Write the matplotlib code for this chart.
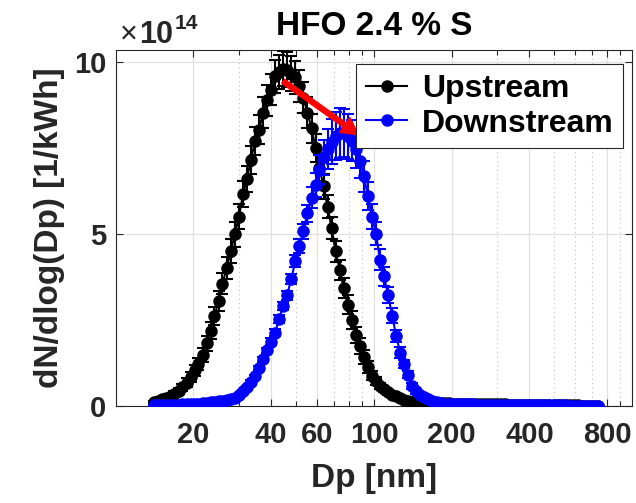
import numpy as np
import matplotlib
matplotlib.use("Agg")
import matplotlib.pyplot as plt
from matplotlib.lines import Line2D
from matplotlib.ticker import FixedLocator, LogLocator, FuncFormatter, NullFormatter
from matplotlib.transforms import offset_copy

# SMPS channel midpoints (nm), 64 channels per decade
dp = [14.1, 14.6, 15.1, 15.7, 16.3, 16.8, 17.5, 18.1, 18.8, 19.5,
      20.2, 20.9, 21.7, 22.5, 23.3, 24.1, 25.0, 25.9, 26.9, 27.9,
      28.9, 30.0, 31.1, 32.2, 33.4, 34.6, 35.9, 37.2, 38.5, 40.0,
      41.4, 42.9, 44.5, 46.1, 47.8, 49.6, 51.4, 53.3, 55.2, 57.3,
      59.4, 61.5, 63.8, 66.1, 68.5, 71.0, 73.7, 76.4, 79.1, 82.0,
      85.1, 88.2, 91.4, 94.7, 98.2, 101.8, 105.5, 109.4, 113.4, 117.6,
      121.9, 126.3, 131.0, 135.8, 140.7, 145.9, 151.2, 156.8, 162.5, 168.5,
      174.7, 181.1, 187.7, 194.6, 201.7, 209.1, 216.7, 224.7, 232.9, 241.4,
      250.3, 259.5, 269.0, 278.8, 289.0, 299.6, 310.6, 322.0, 333.8, 346.0,
      358.7, 371.8, 385.4, 399.5, 414.2, 429.4, 445.1, 461.4, 478.3, 495.8,
      514.0, 532.8, 552.3, 572.5, 593.5, 615.3, 637.8, 661.2, 685.4, 710.5,
      736.5]

scale = 1e14

# dN/dlogDp in units of 1e14 per kWh
upstream = [0.12, 0.15, 0.19, 0.23, 0.28, 0.35, 0.44, 0.54, 0.68, 0.84,
            1.03, 1.22, 1.48, 1.82, 2.19, 2.60, 3.05, 3.55, 4.02, 4.50,
            4.98, 5.50, 6.15, 6.60, 7.15, 7.70, 8.02, 8.52, 8.88, 9.19,
            9.58, 9.70, 9.80, 9.77, 9.65, 9.55, 9.30, 8.95, 8.52, 8.07,
            7.49, 6.91, 6.38, 5.79, 5.17, 4.49, 3.95, 3.42, 2.94, 2.50,
            2.06, 1.74, 1.43, 1.14, 0.88, 0.72, 0.58, 0.48, 0.40, 0.33,
            0.28, 0.23, 0.18, 0.14, 0.12, 0.11, 0.10, 0.095, 0.09, 0.085,
            0.08, 0.078, 0.075, 0.072, 0.07, 0.068, 0.065, 0.063, 0.06, 0.058,
            0.056, 0.054, 0.052, 0.05, 0.048, 0.046, 0.044, 0.042, 0.04, 0.038,
            0.036, 0.034, 0.032, 0.03, 0.028, 0.026, 0.024, 0.022, 0.02, 0.019,
            0.018, 0.017, 0.016, 0.015, 0.014, 0.013, 0.012, 0.011, 0.010, 0.010,
            0.009]

upstream_err = [0.03, 0.04, 0.05, 0.05, 0.06, 0.07, 0.08, 0.10, 0.12, 0.14,
                0.16, 0.18, 0.20, 0.22, 0.24, 0.26, 0.28, 0.30, 0.32, 0.34,
                0.35, 0.36, 0.38, 0.38, 0.40, 0.40, 0.42, 0.44, 0.45, 0.46,
                0.48, 0.50, 0.52, 0.52, 0.50, 0.48, 0.46, 0.45, 0.44, 0.42,
                0.40, 0.38, 0.36, 0.34, 0.32, 0.30, 0.30, 0.29, 0.28, 0.26,
                0.24, 0.22, 0.20, 0.17, 0.14, 0.12, 0.10, 0.08, 0.07, 0.06,
                0.05, 0.04, 0.035, 0.03, 0.025, 0.02, 0.02, 0.02, 0.015, 0.015,
                0.01, 0.01, 0.01, 0.01, 0.01, 0.01, 0.01, 0.01, 0.01, 0.01,
                0.01, 0.01, 0.01, 0.01, 0.01, 0.01, 0.01, 0.01, 0.01, 0.01,
                0.01, 0.01, 0.01, 0.01, 0.01, 0.01, 0.01, 0.01, 0.01, 0.01,
                0.01, 0.01, 0.01, 0.01, 0.01, 0.01, 0.01, 0.01, 0.01, 0.01,
                0.01]

downstream = [0.03, 0.03, 0.03, 0.035, 0.035, 0.04, 0.04, 0.045, 0.05, 0.055,
              0.06, 0.07, 0.08, 0.09, 0.10, 0.12, 0.13, 0.15, 0.17, 0.19,
              0.23, 0.31, 0.42, 0.55, 0.70, 0.86, 1.11, 1.35, 1.61, 1.87,
              2.12, 2.53, 2.91, 3.22, 3.68, 4.20, 4.65, 5.07, 5.60, 6.05,
              6.42, 6.86, 7.22, 7.45, 7.68, 7.83, 7.93, 7.93, 7.83, 7.70,
              7.45, 7.12, 6.67, 6.10, 5.50, 5.00, 4.25, 3.76, 3.22, 2.62,
              2.03, 1.55, 1.22, 0.90, 0.58, 0.42, 0.33, 0.26, 0.20, 0.14,
              0.10, 0.08, 0.07, 0.06, 0.055, 0.05, 0.048, 0.046, 0.044, 0.042,
              0.04, 0.038, 0.036, 0.034, 0.032, 0.03, 0.029, 0.028, 0.027, 0.026,
              0.025, 0.024, 0.023, 0.022, 0.021, 0.02, 0.019, 0.018, 0.017, 0.016,
              0.015, 0.014, 0.013, 0.012, 0.011, 0.010, 0.009, 0.008, 0.007, 0.006,
              0.005]

downstream_err = [0.01, 0.01, 0.01, 0.01, 0.01, 0.01, 0.01, 0.01, 0.01, 0.01,
                  0.01, 0.01, 0.01, 0.015, 0.015, 0.02, 0.02, 0.02, 0.025, 0.025,
                  0.03, 0.03, 0.04, 0.04, 0.05, 0.05, 0.06, 0.07, 0.08, 0.09,
                  0.10, 0.11, 0.12, 0.13, 0.15, 0.17, 0.20, 0.22, 0.25, 0.30,
                  0.35, 0.42, 0.50, 0.58, 0.65, 0.70, 0.72, 0.70, 0.66, 0.60,
                  0.55, 0.50, 0.45, 0.40, 0.36, 0.33, 0.30, 0.27, 0.24, 0.21,
                  0.18, 0.15, 0.12, 0.10, 0.08, 0.06, 0.05, 0.04, 0.03, 0.02,
                  0.01, 0.01, 0.01, 0.01, 0.01, 0.01, 0.01, 0.01, 0.01, 0.01,
                  0.01, 0.01, 0.01, 0.01, 0.01, 0.01, 0.01, 0.01, 0.01, 0.01,
                  0.01, 0.01, 0.01, 0.01, 0.01, 0.01, 0.01, 0.01, 0.01, 0.01,
                  0.01, 0.01, 0.01, 0.01, 0.01, 0.01, 0.01, 0.01, 0.01, 0.01,
                  0.01]

xticks = [20, 40, 60, 100, 200, 400, 800]
yticks = [0, 5, 10]

# mode shift arrow (nm, 1e14/kWh)
arrow_from = (44.5, 9.43)
arrow_to = (87.0, 7.88)

plt.rcParams['font.family'] = ['Liberation Sans', 'DejaVu Sans']
plt.rcParams['font.weight'] = 'bold'

dark = '#262626'

fig = plt.figure(figsize=(6.36, 5.03), dpi=100)
ax = fig.add_axes([0.182, 0.193, 0.812, 0.707])

dp = np.array(dp)
up = np.array(upstream) * scale
down = np.array(downstream) * scale

style = dict(fmt='-o', ms=8, lw=1.5, elinewidth=1.5, capsize=4.5, capthick=1.5)
ax.errorbar(dp, up, yerr=np.array(upstream_err) * scale, color='k', zorder=3, **style)
ax.errorbar(dp, down, yerr=np.array(downstream_err) * scale, color='#0000ff', zorder=4, **style)

ax.annotate('', xy=(arrow_to[0], arrow_to[1] * scale),
            xytext=(arrow_from[0], arrow_from[1] * scale),
            arrowprops=dict(color='#ff0000', width=3.6, headwidth=13,
                            headlength=12, shrink=0),
            zorder=6)

ax.set_xscale('log')
ax.set_xlim(10, 1000)
ax.set_ylim(0, 10.33 * scale)

ax.xaxis.set_major_locator(FixedLocator(xticks))
ax.xaxis.set_major_formatter(FuncFormatter(lambda v, p: f'{v:g}'))
ax.xaxis.set_minor_locator(LogLocator(base=10, subs=np.arange(2, 10), numticks=20))
ax.xaxis.set_minor_formatter(NullFormatter())
ax.yaxis.set_major_locator(FixedLocator([t * scale for t in yticks]))
ax.yaxis.set_major_formatter(FuncFormatter(lambda v, p: f'{v / scale:g}'))

ax.grid(True, which='major', color='#e0e0e0', lw=0.9, ls='-', zorder=0)
ax.grid(True, which='minor', axis='x', color='#c4c4c4', lw=0.8, ls=(0, (1, 3)), zorder=0)
ax.set_axisbelow(True)

ax.tick_params(which='both', direction='in', top=True, right=True,
               colors=dark, labelsize=21, width=0.8)
ax.tick_params(which='major', length=5)
ax.tick_params(which='minor', length=3.5)
ax.tick_params(axis='x', pad=11)
ax.tick_params(axis='y', pad=7)
for s in ax.spines.values():
    s.set_color(dark)
    s.set_linewidth(0.8)

ax.set_xlabel('Dp [nm]', fontsize=24, fontweight='bold', color=dark, labelpad=10)
ax.set_ylabel('dN/dlog(Dp) [1/kWh]', fontsize=24, fontweight='bold', color=dark, labelpad=6)
ax.set_title('HFO 2.4 % S', fontsize=24, fontweight='bold', color='k', pad=11)

# exponent label above the y axis: thin "×", bold "10", raised "14"
def exp_part(s, dx, dy, size, weight):
    ax.text(0.0, 1.0, s, fontsize=size, fontweight=weight, color=dark,
            ha='left', va='baseline',
            transform=offset_copy(ax.transAxes, fig=fig, x=dx, y=dy, units='dots'))

exp_part('\u00d7', 4, 7, 22, 'normal')
exp_part('10', 23, 7, 22, 'bold')
exp_part('14', 59, 21, 15, 'bold')

handles = [Line2D([], [], color='k', marker='o', ms=8, lw=1.5),
           Line2D([], [], color='#0000ff', marker='o', ms=8, lw=1.5)]
leg = ax.legend(handles, ['Upstream', 'Downstream'], loc='upper right',
                bbox_to_anchor=(0.9826, 0.9607), borderaxespad=0,
                fontsize=23, fancybox=False, framealpha=1, edgecolor=dark,
                handlelength=1.3, handletextpad=0.45, labelspacing=0.15,
                borderpad=0.3)
leg.get_frame().set_linewidth(0.8)
leg.set_zorder(7)

fig.savefig('out.png', dpi=100)
